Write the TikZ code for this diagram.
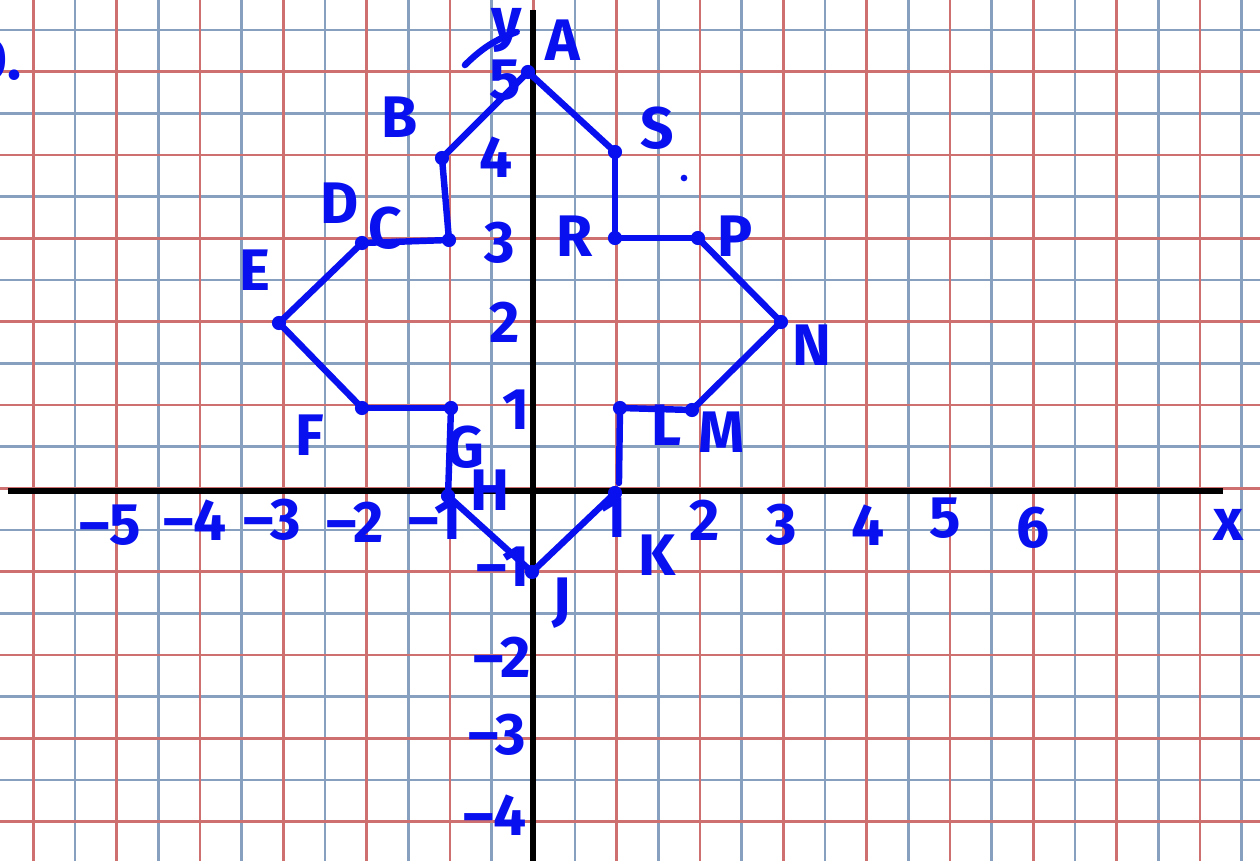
\documentclass[tikz,border=0pt]{standalone}
\usepackage{fontspec}
\setmainfont{Fira Sans}
\definecolor{gridred}{RGB}{206,112,112}
\definecolor{gridblue}{RGB}{136,160,192}
\definecolor{ink}{RGB}{8,16,240}
\begin{document}
\begin{tikzpicture}[x=0.012cm,y=-0.012cm,
  lbl/.style={text=ink,font=\fontsize{20}{24}\selectfont\bfseries,inner sep=0pt},
  dot/.style={circle,fill=ink,inner sep=0pt,minimum size=0.17cm},
  fig/.style={draw=ink,line width=2.2pt,line cap=round,shorten <=-1pt,shorten >=-1pt},
  redline/.style={draw=gridred,line width=1pt},
  blueline/.style={draw=gridblue,line width=1pt},
  axisline/.style={draw=black,line width=2.1pt}]
\useasboundingbox (0,0) rectangle (1260,861);
\fill[white] (0,0) rectangle (1260,861);
% grid
\foreach \k in {0,...,14} \draw[blueline] ({75+83.333*\k},0) -- ++(0,861);
\foreach \k in {0,...,9} \draw[blueline] (0,{30+83.333*\k}) -- ++(1260,0);
\foreach \k in {0,...,14} \draw[redline] ({33.333+83.333*\k},0) -- ++(0,861);
\foreach \k in {0,...,9} \draw[redline] (0,{71.667+83.333*\k}) -- ++(1260,0);
% axes
\coordinate (xl) at (8,491);
\coordinate (xr) at (1223,491);
\coordinate (yt) at (533,10);
\coordinate (yb) at (533,861);
\draw[axisline] (xl) -- (xr);
\draw[axisline] (yt) -- (yb);
% figure points
\node[dot] (pA) at (528,72) {};
\node[dot] (pB) at (442,158) {};
\node[dot] (pC) at (449,240) {};
\node[dot] (pD) at (362,243) {};
\node[dot] (pE) at (279,323) {};
\node[dot] (pF) at (362,408) {};
\node[dot] (pG) at (451,408) {};
\node[dot] (pH) at (448,496) {};
\node[dot] (pJ) at (532,572) {};
\node[dot] (pK) at (615,493) {};
\coordinate (pLb) at (619,480);
\node[dot] (pL) at (620,408) {};
\node[dot] (pM) at (692,410) {};
\node[dot] (pN) at (781,322) {};
\node[dot] (pP) at (698,238) {};
\node[dot] (pR) at (615,238) {};
\node[dot] (pS) at (615,152) {};
\draw[fig] (pA) -- (pB);
\draw[fig] (pB) -- (pC);
\draw[fig] (pC) -- (pD);
\draw[fig] (pD) -- (pE);
\draw[fig] (pE) -- (pF);
\draw[fig] (pF) -- (pG);
\draw[fig] (pG) -- (pH);
\draw[fig] (pH) -- (pJ);
\draw[fig] (pJ) -- (pK);
\draw[fig] (pLb) -- (pL);
\draw[fig] (pL) -- (pM);
\draw[fig] (pM) -- (pN);
\draw[fig] (pN) -- (pP);
\draw[fig] (pP) -- (pR);
\draw[fig] (pR) -- (pS);
\draw[fig] (pS) -- (pA);
% labels of points
\node[lbl] (tA) at (563,40) {A};
\node[lbl] (tB) at (400,117) {B};
\node[lbl] (tS) at (657,128) {S};
\node[dot,minimum size=0.08cm] (tdot) at (684,178) {};
\node[lbl] (tD) at (340,203) {D};
\node[lbl] (tC) at (385,228) {C};
\node[lbl] (tR) at (575,236) {R};
\node[lbl] (tP) at (735,236) {P};
\node[lbl] (tE) at (255,270) {E};
\node[lbl] (tN) at (812,345) {N};
\node[lbl] (tF) at (310,435) {F};
\node[lbl] (tL) at (667,425) {L};
\node[lbl] (tM) at (722,432) {M};
\node[lbl] (tG) at (465,447) {G};
\node[lbl] (tH) at (490,490) {H};
\node[lbl] (tK) at (657,555) {K};
\node[lbl] (tJ) at (562,603) {J};
\node[lbl] (t0) [anchor=east] at (22,60) {0.};
% axis names
\node[lbl] (ty) at (507,30) {y};
\coordinate (ys1) at (467,63);
\coordinate (ys2) at (514,33);
\draw[fig] (ys1) .. controls (485,45) and (500,38) .. (ys2);
\node[lbl] (tx) at (1228,525) {x};
% y-axis numbers
\node[lbl] (y5) at (505,80) {5};
\node[lbl] (y4) at (496,157) {4};
\node[lbl] (y3) at (500,243) {3};
\node[lbl] (y2) at (505,322) {2};
\node[lbl] (y1) at (516,410) {1};
\node[lbl] (ym1) at (503,567) {\textendash1};
\node[lbl] (ym2) at (502,657) {\textendash2};
\node[lbl] (ym3) at (497,735) {\textendash3};
\node[lbl] (ym4) at (495,815) {\textendash4};
% x-axis numbers
\node[lbl] (xm5) at (110,525) {\textendash5};
\node[lbl] (xm4) at (195,520) {\textendash4};
\node[lbl] (xm3) at (272,520) {\textendash3};
\node[lbl] (xm2) at (355,522) {\textendash2};
\node[lbl] (xm1) at (435,520) {\textendash1};
\node[lbl] (x1) at (613,518) {1};
\node[lbl] (x2) at (705,520) {2};
\node[lbl] (x3) at (782,525) {3};
\node[lbl] (x4) at (868,525) {4};
\node[lbl] (x5) at (945,518) {5};
\node[lbl] (x6) at (1033,528) {6};
\end{tikzpicture}
\end{document}
